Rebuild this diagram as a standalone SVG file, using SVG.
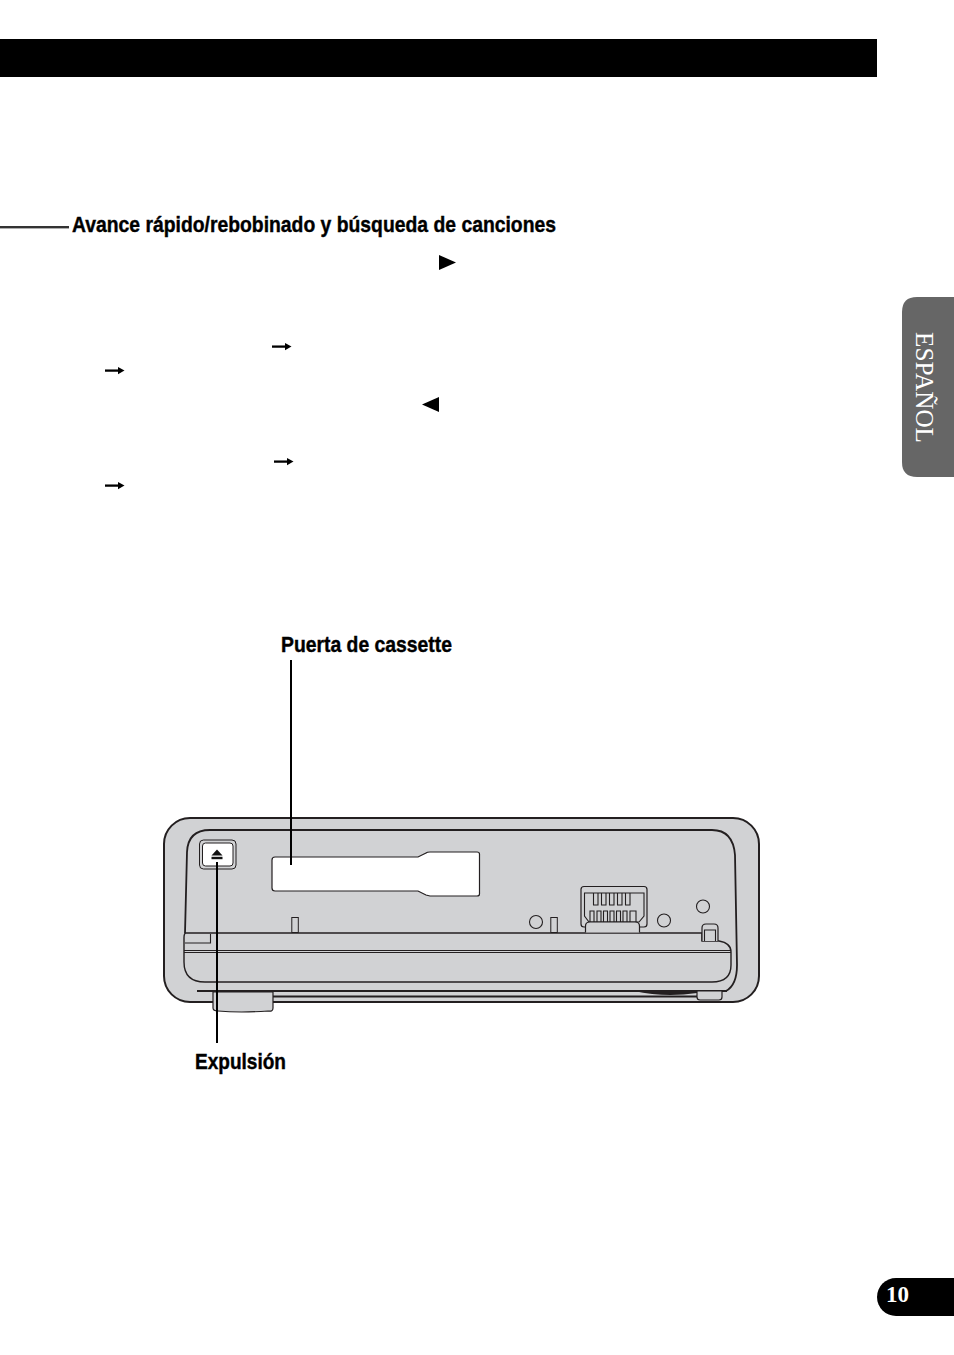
<svg xmlns="http://www.w3.org/2000/svg" width="954" height="1355" viewBox="0 0 954 1355">
<style>
.l{fill:none;stroke:#231f20;stroke-width:1.1}
.m{fill:none;stroke:#231f20;stroke-width:1.8}
.g{fill:#d1d2d4}
.w{fill:#fff}
.lab{font-family:"Liberation Sans",Arial,sans-serif;font-weight:bold;fill:#000;stroke:#000;stroke-width:.4}
.lead{fill:none;stroke:#000;stroke-width:2}
</style>
<defs>
<g id="arr"><path d="M0 0.600H14" stroke="#000" stroke-width="2.300" fill="none"/><path d="M13 -3L19.500 0.600L13 4.200Z" fill="#000"/></g>
</defs>
<rect width="954" height="1355" fill="#fff"/>
<g id="header"><rect x="0" y="39" width="877" height="38" fill="#000"/></g>
<g id="heading">
<rect x="0" y="226" width="69" height="2.400" fill="#333"/>
<text class="lab" x="72" y="232" font-size="22" textLength="484" lengthAdjust="spacingAndGlyphs">Avance rápido/rebobinado y búsqueda de canciones</text>
</g>
<g id="symbols">
<path d="M439 255L456 262.500L439 270Z" fill="#000"/>
<path d="M439 397L422 404.500L439 412Z" fill="#000"/>
<use href="#arr" x="272" y="346"/>
<use href="#arr" x="105" y="370"/>
<use href="#arr" x="274" y="461"/>
<use href="#arr" x="105" y="485"/>
</g>
<g id="side-tab">
<path d="M954 297H917Q902 297 902 312V462Q902 477 917 477H954Z" fill="#666"/>
<text transform="translate(916 332) rotate(90)" font-family="'Liberation Serif','Times New Roman',serif" font-size="26" fill="#fff" textLength="111" lengthAdjust="spacingAndGlyphs">ESPAÑOL</text>
</g>
<g id="page-number">
<path d="M954 1278H896A19 19 0 0 0 896 1316H954Z" fill="#000"/>
<text x="886" y="1302" font-family="'Liberation Serif','Times New Roman',serif" font-weight="bold" font-size="23" fill="#fff">10</text>
</g>
<g id="device">
<rect id="body" x="164" y="818" width="595" height="184" rx="26" class="g" stroke="#231f20" stroke-width="2"/>
<path class="m" d="M185 933L187 852Q188 830 210 830H712Q733 830 735 855L737 965Q737 985 726 991"/>
<path id="bar" class="g" stroke="#231f20" stroke-width="1.4" d="M186 933H702V941H719Q731 943 731 952V965Q731 982 712 982H205Q184 982 184 962V938Q184 933 186 933Z"/>
<path class="l" d="M184 950.500H731M184 952.500H731"/>
<path class="l" d="M185 943H210.500V934"/>
<path class="m" d="M197 991H727M273 996.500H697"/>
<path id="foot-left" class="g" stroke="#231f20" stroke-width="1.2" d="M213 992H273V1008Q273 1012 268 1011Q240 1013 218 1011Q213 1011 213 1008Z"/>
<path d="M634 991Q665 998 697 993V991Z" fill="#231f20"/>
<path id="foot-right" class="g" stroke="#231f20" stroke-width="1.2" d="M697 991H722V997Q722 1000 719 1000H700Q697 1000 697 997Z"/>
<path id="clip" class="g" stroke="#231f20" stroke-width="1.2" d="M702 941V928Q702 924 706 924H714Q718 924 718 928V941"/>
<path class="l" d="M704.500 941V930H715.500V941"/>
<path id="window" class="w" stroke="#231f20" stroke-width="1.2" d="M275 857H418L426 853Q427 852 430 852H477Q479.500 852 479.500 854V894Q479.500 896 477 896H430L426 895L418 891H275Q272 891 272 888V860Q272 857 275 857Z"/>
<g id="eject-button">
<rect x="199.500" y="840" width="36.500" height="29" rx="4" class="g" stroke="#231f20" stroke-width="1"/>
<rect x="202.500" y="843" width="30.500" height="23" rx="3" class="w" stroke="#231f20" stroke-width="1"/>
<path d="M217 849.500L222.500 855.500H211.500Z" fill="#111"/>
<rect x="211.500" y="856.800" width="11" height="2.400" fill="#111"/>
</g>
<rect x="291.800" y="917.500" width="6.500" height="15" class="g" stroke="#231f20" stroke-width="1"/>
<rect x="550.800" y="917.500" width="6.500" height="15" class="g" stroke="#231f20" stroke-width="1"/>
<circle cx="536" cy="922" r="6.500" class="l"/>
<circle cx="664" cy="920.500" r="6.500" class="l"/>
<circle cx="703" cy="906.500" r="6.500" class="l"/>
<g id="connector">
<rect x="581" y="886.500" width="66" height="40.500" rx="3" class="g" stroke="#231f20" stroke-width="1.2"/>
<path class="l" d="M584.500 916V893H644V916L639 922H589Z"/>
<path class="l" d="M593.500 893V905H598V893M601.500 893V905H606V893M609.500 893V905H614V893M617.500 893V905H622V893M625.500 893V905H630V893"/>
<path class="l" d="M590 922V911H594V922M597 922V911H601V922M603.500 922V911H607.500V922M610 922V911H614V922M616.500 922V911H620.500V922M623 922V911H627V922M630 922V911H636V922"/>
<path class="g" stroke="#231f20" stroke-width="1.2" d="M585.500 932.500V926Q585.500 922 590 922H635Q639.500 922 639.500 926V932.500"/>
</g>
</g>
<g id="connectors">
<path class="lead" d="M291 660V865"/>
<path class="lead" d="M217 862V1043"/>
</g>
<g id="label-door"><text class="lab" x="281" y="652" font-size="22" textLength="171" lengthAdjust="spacingAndGlyphs">Puerta de cassette</text></g>
<g id="label-eject"><text class="lab" x="195" y="1069" font-size="22" textLength="91" lengthAdjust="spacingAndGlyphs">Expulsión</text></g>
</svg>
